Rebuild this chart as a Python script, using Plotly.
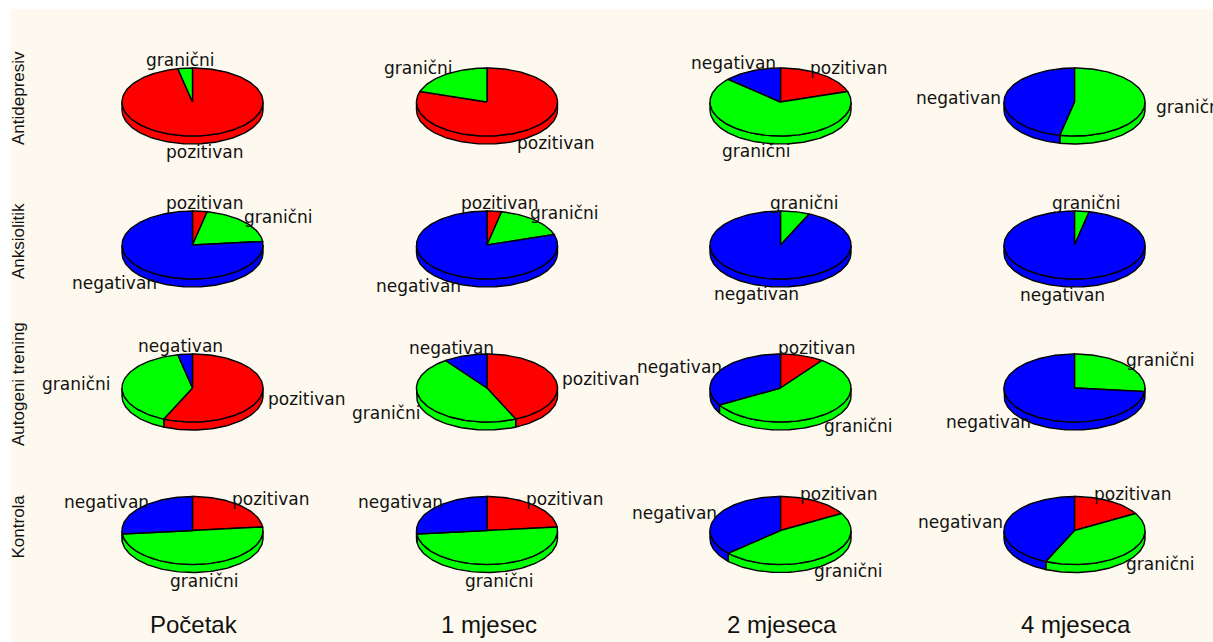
import numpy as np
import plotly.graph_objects as go

# ---------------- data ----------------
groups = ["Antidepresiv", "Anksiolitik", "Autogeni trening", "Kontrola"]
times = ["Početak", "1 mjesec", "2 mjeseca", "4 mjeseca"]
categories = ["pozitivan", "granični", "negativan"]

# counts of patients at each time point (Početak, 1 mjesec, 2 mjeseca, 4 mjeseca)
antidepresiv_pozitivan = [29, 24, 6, 0]
antidepresiv_granicni = [1, 6, 20, 16]
antidepresiv_negativan = [0, 0, 4, 14]

anksiolitik_pozitivan = [1, 1, 0, 0]
anksiolitik_granicni = [6, 5, 2, 1]
anksiolitik_negativan = [23, 24, 28, 29]

autogeni_pozitivan = [17, 13, 3, 0]
autogeni_granicni = [12, 14, 17, 8]
autogeni_negativan = [1, 3, 10, 22]

kontrola_pozitivan = [7, 7, 5, 5]
kontrola_granicni = [15, 15, 14, 12]
kontrola_negativan = [8, 8, 11, 13]

# ---------------- style / layout ----------------
slice_colors = ["#FF0000", "#00FF00", "#0000FF"]
W, H = 1213, 642
col_x = [192.5, 487.0, 780.5, 1074.5]
row_y = [102.0, 245.0, 388.0, 530.5]
RX, RY, DEPTH = 70.5, 34.0, 8.0
FONT = "Liberation Sans, Arial, sans-serif"
LABEL_FONT = "DejaVu Sans, sans-serif"

table = [
    [antidepresiv_pozitivan, antidepresiv_granicni, antidepresiv_negativan],
    [anksiolitik_pozitivan, anksiolitik_granicni, anksiolitik_negativan],
    [autogeni_pozitivan, autogeni_granicni, autogeni_negativan],
    [kontrola_pozitivan, kontrola_granicni, kontrola_negativan],
]

fig = go.Figure()
annotations = []


def arc(cx, cy, t_from, t_to, dy=0.0, n=None):
    if n is None:
        n = max(2, int(abs(t_to - t_from) / 2) + 2)
    t = np.radians(np.linspace(t_from, t_to, n))
    return cx + RX * np.cos(t), cy - RY * np.sin(t) + dy


def add_poly(xs, ys, color):
    fig.add_trace(go.Scatter(
        x=list(xs) + [xs[0]], y=list(ys) + [ys[0]],
        mode="lines", fill="toself", fillcolor=color,
        line=dict(color="black", width=1.4),
        hoverinfo="skip", showlegend=False))


for r, series in enumerate(table):
    for c in range(len(times)):
        cx, cy = col_x[c], row_y[r]
        vals = [s[c] for s in series]
        total = float(sum(vals))
        slices = []
        start = 90.0
        for k, v in enumerate(vals):
            if v <= 0:
                continue
            span = 360.0 * v / total
            slices.append((k, start, start - span))
            start -= span
        # side walls (front half only)
        for k, t1, t2 in slices:
            for base in (-360.0, 0.0, 360.0):
                lo = max(t2, base - 180.0)
                hi = min(t1, base)
                if hi - lo > 1e-6:
                    xt, yt = arc(cx, cy, hi, lo)
                    xb, yb = arc(cx, cy, lo, hi, dy=DEPTH)
                    add_poly(np.concatenate([xt, xb]), np.concatenate([yt, yb]),
                             slice_colors[k])
        # top faces
        for k, t1, t2 in slices:
            xa, ya = arc(cx, cy, t1, t2)
            add_poly(np.concatenate([[cx], xa]), np.concatenate([[cy], ya]),
                     slice_colors[k])
        # labels
        for k, t1, t2 in slices:
            m = np.radians((t1 + t2) / 2.0)
            lx = cx + 1.65 * RX * np.cos(m)
            ly = cy - 1.25 * RY * np.sin(m) + DEPTH * max(0.0, -np.sin(m))
            annotations.append(dict(
                x=lx, y=ly, xref="x", yref="y", text=categories[k],
                showarrow=False, xanchor="center", yanchor="middle",
                font=dict(family=LABEL_FONT, size=17, color="#111111")))

# row labels
for r, g in enumerate(groups):
    annotations.append(dict(
        x=18, y=row_y[r] - 4, xref="x", yref="y", text=g, textangle=-90,
        showarrow=False, xanchor="center", yanchor="middle",
        font=dict(family=FONT, size=17, color="#111111")))

# column labels
for c, t in enumerate(times):
    annotations.append(dict(
        x=col_x[c] + 1.5, y=624, xref="x", yref="y", text=t,
        showarrow=False, xanchor="center", yanchor="middle",
        font=dict(family=FONT, size=24, color="#111111")))

fig.update_layout(
    width=W, height=H,
    margin=dict(l=0, r=0, t=0, b=0),
    paper_bgcolor="white", plot_bgcolor="white",
    xaxis=dict(range=[0, W], visible=False, fixedrange=True),
    yaxis=dict(range=[H, 0], visible=False, fixedrange=True),
    shapes=[dict(type="rect", xref="x", yref="y", x0=11, y0=9, x1=W, y1=H,
                 fillcolor="#FEF9EE", line=dict(width=0), layer="below")],
    annotations=annotations,
    showlegend=False,
)

fig.write_html(
    "out.html",
    config={"displayModeBar": False},
    post_script="document.body.style.margin='0px';document.body.style.overflow='hidden';",
)
